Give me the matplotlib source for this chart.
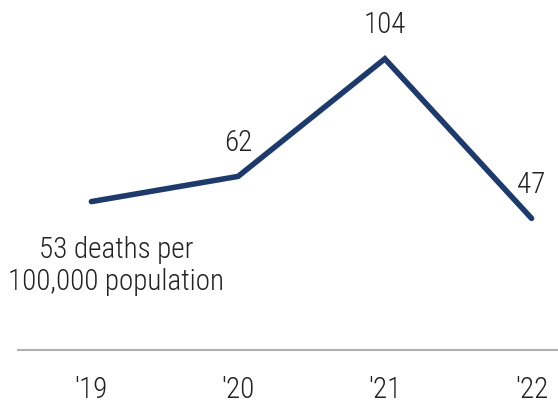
import matplotlib
matplotlib.use("Agg")
import matplotlib.pyplot as plt
from matplotlib import font_manager

years = ["'19", "'20", "'21", "'22"]
deaths = [53, 62, 104, 47]
first_label = ["53 deaths per", "100,000 population"]

# prefer a condensed face if one happens to be installed
names = set(f.name for f in font_manager.fontManager.ttflist)
family = "Roboto"
for cand in ["Roboto Condensed", "Liberation Sans Narrow", "Roboto"]:
    if cand in names:
        family = cand
        break
plt.rcParams["font.family"] = [family, "DejaVu Sans"]

navy = "#1d3a6b"
txt = "#222222"
fs = 21

fig = plt.figure(figsize=(5.58, 4.04), dpi=100)
ax = fig.add_axes([18 / 558, 54 / 404, 540 / 558, 350 / 404])

x = list(range(len(years)))
ax.plot(x, deaths, color=navy, linewidth=4,
        solid_capstyle="round", solid_joinstyle="miter")

ax.set_xlim(-0.5, 3.18)
ax.set_ylim(0, 125)

# value labels above points 2-4, baseline aligned
for i in range(1, len(deaths)):
    ax.annotate(str(deaths[i]), (x[i], deaths[i]), xytext=(0, 18.5), textcoords="offset points",
                ha="center", va="baseline", fontsize=fs, color=txt, weight="light")

# first point label, two lines below the start
ax.annotate(first_label[0], (x[0], deaths[0]), xytext=(18, -40.5), textcoords="offset points",
            ha="center", va="baseline", fontsize=fs, color=txt, weight="light")
ax.annotate(first_label[1], (x[0], deaths[0]), xytext=(18, -63.5), textcoords="offset points",
            ha="center", va="baseline", fontsize=fs, color=txt, weight="light")

for s in ["top", "right", "left"]:
    ax.spines[s].set_visible(False)
ax.spines["bottom"].set_color("#b0b0b0")
ax.spines["bottom"].set_linewidth(1.5)
ax.set_yticks([])
ax.set_xticks(x)
ax.set_xticklabels(years)
ax.tick_params(axis="x", length=0, pad=19, labelsize=fs, labelcolor=txt)
for lab in ax.get_xticklabels():
    lab.set_fontweight("light")

fig.savefig("out.png", dpi=100)
